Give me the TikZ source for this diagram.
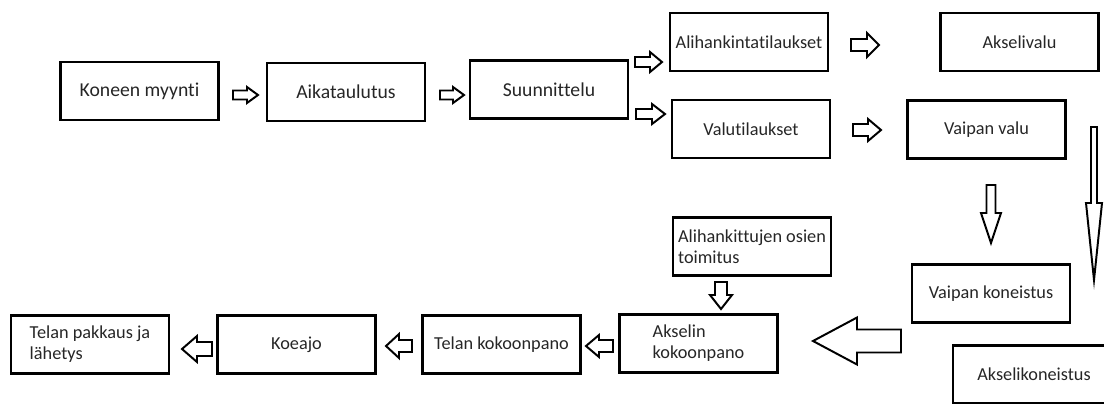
\documentclass[tikz,border=0pt]{standalone}
\usepackage{fontspec}
\setmainfont{Carlito}[Ligatures=NoCommon]
\usetikzlibrary{positioning}

\tikzset{
    kasten/.style={draw, line width=1.8pt, minimum width=3.95cm, minimum height=1.45cm, inner sep=0pt, text=black!85, font=\fontsize{13}{15}\selectfont},
    gross/.style={font=\fontsize{14}{17}\selectfont},
    pfeil/.style={draw, line width=1.4pt, line join=miter, fill=white}
}

\begin{document}
\begin{tikzpicture}[x=0.025cm, y=-0.025cm]
        \useasboundingbox (0,0) rectangle (1104,403);
        \clip (0,0) rectangle (1104,403);

        % obere Reihe
        \node[kasten, gross] (myynti) at (139.5,91) {Koneen myynti};
        \node[kasten, gross] (aikataulu) at (346,92) {Aikataulutus};
        \node[kasten, gross] (suunnittelu) at (549,89.5) {Suunnittelu};
        \node[kasten] (alihankinta) at (749,42) {Alihankintatilaukset};
        \node[kasten] (valutilaus) at (751,129) {Valutilaukset};
        \node[kasten] (akselivalu) at (1019.5,42) {Akselivalu};
        \node[kasten] (vaipanvalu) at (986.5,129.5) {Vaipan valu};

        % rechte Seite
        \node[kasten] (vaipankoneistus) at (991,293.5) {Vaipan koneistus};
        \node[kasten, minimum width=4.05cm] (akselikoneistus) at (1034,374.5) {Akselikoneistus};

        % untere Reihe
        \node[kasten, align=left] (toimitus) at (752,246.5) {Alihankittujen osien\\toimitus};
        \node[kasten, align=left] (akselinkok) at (698.5,343.5) {Akselin\\kokoonpano};
        \node[kasten] (telankok) at (501.5,344.5) {Telan kokoonpano};
        \node[kasten] (koeajo) at (296.5,344.5) {Koeajo};
        \node[kasten, align=left] (pakkaus) at (90,344.5) {Telan pakkaus ja\\lähetys};

        % Blockpfeile: x/y/winkel/laenge/schaft/kopf/kopflaenge
        \foreach \x/\y/\winkel/\lang/\schaft/\kopf/\kopflang in {233/95/0/25/9/16/11, 440/95/0/24/9/16/11, 635/62/0/27/10/20/12, 636/114/0/29/10/20/13, 851/45/0/28/12/24/12, 853/130/0/28/12/22/13, 991/185/-90/58/9/20/30, 1094/127/-90/153/6/16/77, 901/341/180/88/23/47/44, 721/282/-90/27/12/22/14, 613/346/180/27/12/22/13, 412/346/180/26/12/24/13, 212/349/180/30/14/26/15}
        {
            \draw[pfeil, shift={(\x,\y)}, rotate=\winkel] (0,-\schaft/2) -- (\lang-\kopflang,-\schaft/2) -- (\lang-\kopflang,-\kopf/2) -- (\lang,0) -- (\lang-\kopflang,\kopf/2) -- (\lang-\kopflang,\schaft/2) -- (0,\schaft/2) -- cycle;
        }
\end{tikzpicture}
\end{document}
